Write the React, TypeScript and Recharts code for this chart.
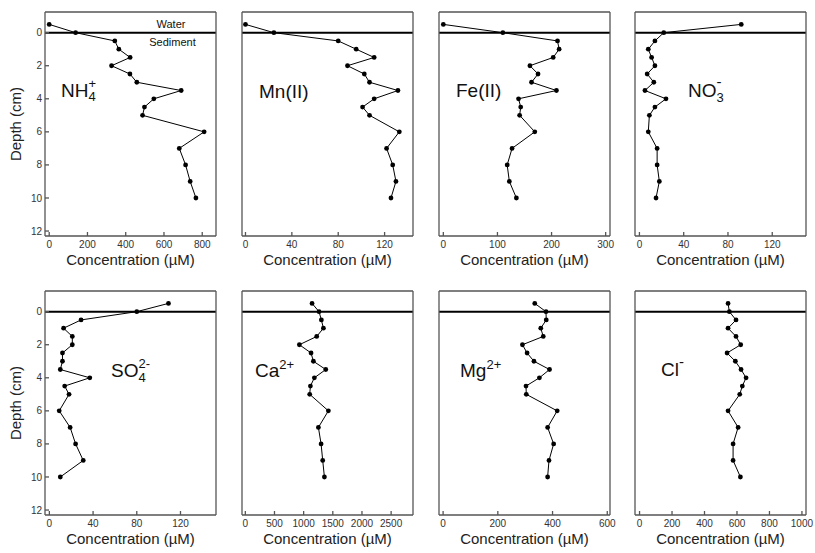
import React from 'react';
import { ScatterChart, Scatter, XAxis, YAxis, ReferenceLine, Label } from 'recharts';

// Depth of each sample (cm); negative = overlying water
const depths = [-0.5, 0, 0.5, 1, 1.5, 2, 2.5, 3, 3.5, 4, 4.5, 5, 6, 7, 8, 9, 10];

// Concentrations (µM) at each depth
const nh4 = [0, 138, 343, 364, 423, 326, 422, 458, 690, 547, 498, 488, 810, 680, 713, 737, 767];
const mn = [0, 24.5, 80, 95.5, 111, 88, 102.5, 107, 131.5, 111, 101, 107, 132.7, 121.7, 127, 129.8, 125.5];
const fe = [0, 110, 211, 214, 203, 160, 175, 163, 209, 139, 143, 141, 169, 127, 118, 122, 135];
const no3 = [92, 22, 14, 8, 11, 14, 7, 13, 5, 24, 14, 9, 8, 16, 16, 18, 15];
const so4 = [109, 80, 29, 13, 21, 21, 12, 12, 10, 37, 14, 18, 9, 19, 24, 31, 10];
const ca = [1144, 1264, 1304, 1339, 1224, 927, 1127, 1167, 1379, 1184, 1116, 1104, 1424, 1253, 1299, 1327, 1356];
const mg = [335, 376, 377, 357, 366, 290, 307, 332, 389, 352, 303, 304, 417, 382, 404, 387, 382];
const cl = [545, 553, 594, 545, 594, 623, 539, 590, 625, 656, 633, 617, 545, 607, 576, 576, 621];

// Tick labels
const depthTicks = [0, 2, 4, 6, 8, 10, 12];
const ticks800 = [0, 200, 400, 600, 800];
const ticks120 = [0, 40, 80, 120];
const ticks300 = [0, 100, 200, 300];
const ticks2500 = [0, 500, 1000, 1500, 2000, 2500];
const ticks600 = [0, 200, 400, 600];
const ticks1000 = [0, 200, 400, 600, 800, 1000];

const PLOT_W = 171;
const PLOT_H = 224;
const YW = 44;
const XH = 40;
const MT = 2;
const MR = 16;
const colLeft = [44.5, 241.5, 438.5, 634.5];
const rowTop = [12, 290.5];
const FRAME = '#555';
const depthDomain = [-1.25, 12.3];

const panels = [
  { values: nh4, domain: [-22, 872], ticks: ticks800, col: 0, row: 0 },
  { values: mn, domain: [-3, 144.5], ticks: ticks120, col: 1, row: 0 },
  { values: fe, domain: [-8, 308], ticks: ticks300, col: 2, row: 0 },
  { values: no3, domain: [-4, 150.5], ticks: ticks120, col: 3, row: 0 },
  { values: so4, domain: [-4, 152.5], ticks: ticks120, col: 0, row: 1 },
  { values: ca, domain: [-57, 2875], ticks: ticks2500, col: 1, row: 1 },
  { values: mg, domain: [-15, 610], ticks: ticks600, col: 2, row: 1 },
  { values: cl, domain: [-28, 1025], ticks: ticks1000, col: 3, row: 1 },
];

const Dot = (p: any) => <circle cx={p.cx} cy={p.cy} r={2.4} fill="#000" />;
const NoDot = () => <g />;

function Panel({ values, domain, ticks, col, row }: any) {
  const data = depths.map((d, i) => ({ d, c: values[i] }));
  const showY = col === 0;
  return (
    <div style={{ position: 'absolute', left: colLeft[col] - YW, top: rowTop[row] - MT - 1 }}>
      <ScatterChart
        width={YW + PLOT_W + 1 + MR}
        height={MT + 1 + PLOT_H + XH}
        margin={{ top: MT, right: MR, bottom: 0, left: 0 }}
      >
        <XAxis
          xAxisId="b"
          type="number"
          dataKey="c"
          domain={domain}
          ticks={ticks}
          interval={0}
          allowDataOverflow
          orientation="bottom"
          height={XH}
          tickSize={-4}
          tickMargin={9}
          stroke={FRAME}
          strokeWidth={1.3}
          tick={{ fontSize: 10, fill: '#333' }}
        >
          <Label value="Concentration (µM)" position="insideBottom" offset={11} style={{ fontSize: 15, fill: '#222' }} />
        </XAxis>
        <XAxis
          xAxisId="t"
          type="number"
          dataKey="c"
          domain={domain}
          ticks={ticks}
          interval={0}
          allowDataOverflow
          orientation="top"
          height={1}
          tickSize={-4}
          tick={false}
          stroke={FRAME}
          strokeWidth={1.3}
        />
        <YAxis
          yAxisId="l"
          type="number"
          dataKey="d"
          domain={depthDomain}
          ticks={depthTicks}
          interval={0}
          reversed
          allowDataOverflow
          width={YW}
          tickSize={-4}
          tickMargin={7}
          stroke={FRAME}
          strokeWidth={1.3}
          tick={showY ? { fontSize: 10, fill: '#333' } : false}
        >
          {showY ? (
            <Label value="Depth (cm)" angle={-90} position="insideLeft" offset={15} style={{ fontSize: 15, fill: '#222', textAnchor: 'middle' }} />
          ) : null}
        </YAxis>
        <YAxis
          yAxisId="r"
          type="number"
          dataKey="d"
          domain={depthDomain}
          ticks={depthTicks}
          interval={0}
          reversed
          allowDataOverflow
          orientation="right"
          width={1}
          tickSize={-4}
          tick={false}
          stroke={FRAME}
          strokeWidth={1.3}
        />
        <ReferenceLine xAxisId="b" yAxisId="l" y={0} stroke="#000" strokeWidth={2} />
        <Scatter
          xAxisId="t"
          yAxisId="r"
          data={data}
          shape={NoDot}
          isAnimationActive={false}
        />
        <Scatter
          xAxisId="b"
          yAxisId="l"
          data={data}
          line={{ stroke: '#000', strokeWidth: 1 }}
          lineType="joint"
          shape={Dot}
          isAnimationActive={false}
        />
      </ScatterChart>
    </div>
  );
}

export default function App() {
  return (
    <div
      style={{
        position: 'absolute',
        left: 0,
        top: 0,
        width: 815,
        height: 553,
        background: '#fff',
        fontFamily: '"Liberation Sans", Arial, Helvetica, sans-serif',
      }}
    >
      {panels.map((p, i) => (
        <Panel key={i} {...p} />
      ))}
      <svg
        width={815}
        height={553}
        style={{ position: 'absolute', left: 0, top: 0, pointerEvents: 'none' }}
        fontFamily='"Liberation Sans", Arial, Helvetica, sans-serif'
        fill="#111"
      >
        <text x={171} y={28} fontSize={11} textAnchor="middle">Water</text>
        <text x={172.5} y={45.5} fontSize={11} textAnchor="middle">Sediment</text>

        <text x={61} y={97} fontSize={19}>
          NH<tspan fontSize={13} dy={4}>4</tspan>
          <tspan fontSize={13} dx={-7.2} dy={-13.4}>+</tspan>
        </text>
        <text x={259} y={97.5} fontSize={19}>Mn(II)</text>
        <text x={456} y={97} fontSize={19}>Fe(II)</text>
        <text x={688} y={97} fontSize={19}>
          NO<tspan fontSize={13} dy={4.5}>3</tspan>
          <tspan fontSize={15} dx={-7.2} dy={-14.5}>-</tspan>
        </text>

        <text x={111} y={377} fontSize={19}>
          SO<tspan fontSize={13} dy={4.5}>4</tspan>
          <tspan fontSize={13} dx={-7.2} dy={-14}>2-</tspan>
        </text>
        <text x={255} y={377} fontSize={19}>
          Ca<tspan fontSize={13} dy={-8.5}>2+</tspan>
        </text>
        <text x={460} y={377} fontSize={19}>
          Mg<tspan fontSize={13} dy={-8.5}>2+</tspan>
        </text>
        <text x={661} y={376} fontSize={19}>
          Cl<tspan fontSize={15} dy={-9.5}>-</tspan>
        </text>
      </svg>
    </div>
  );
}
